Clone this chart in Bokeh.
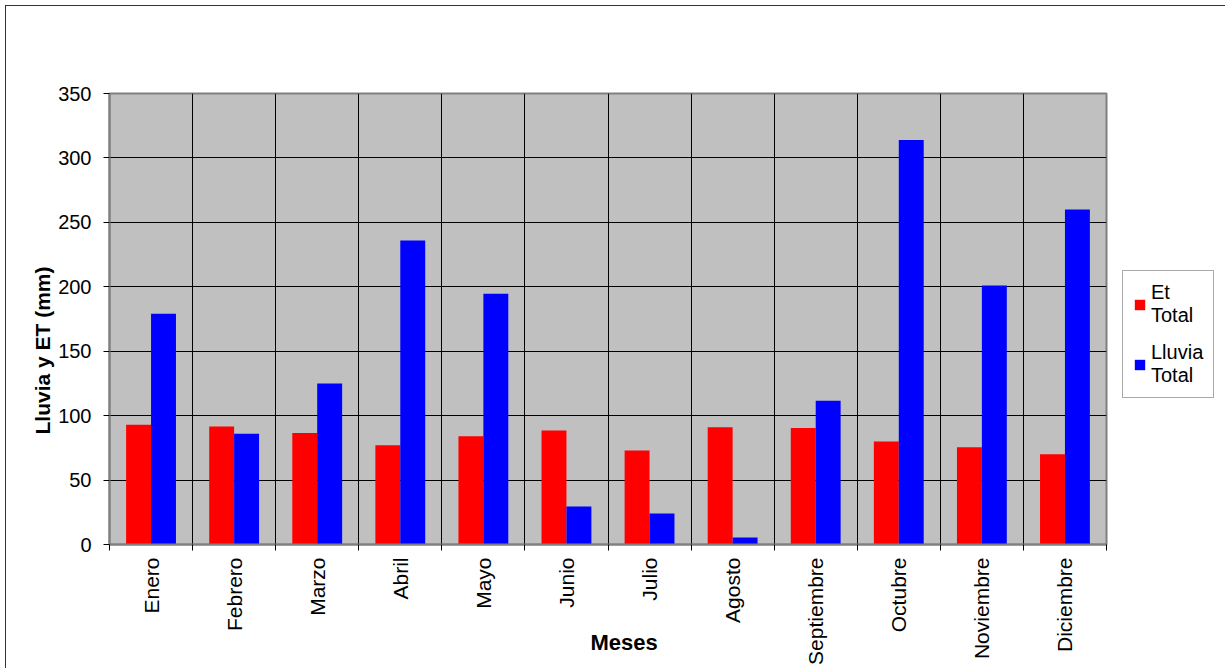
import numpy as np
from bokeh.plotting import figure
from bokeh.models import ColumnDataSource, Range1d, FixedTicker, Title, Legend, LegendItem
from bokeh.transform import dodge
from bokeh.embed import file_html
from bokeh.resources import INLINE

months = ["Enero", "Febrero", "Marzo", "Abril", "Mayo", "Junio", "Julio",
          "Agosto", "Septiembre", "Octubre", "Noviembre", "Diciembre"]
et_total = [93, 91.5, 86.5, 77, 84, 88.5, 73, 91, 90.5, 80, 75.5, 70]
lluvia_total = [179, 86, 125, 236, 194.5, 29.5, 24, 5.5, 111.5, 314, 201, 260]
y_ticks = [0, 50, 100, 150, 200, 250, 300, 350]
series_labels = ["Et\nTotal", "Lluvia\nTotal"]
series_colors = ["#FF0000", "#0000FF"]
y_title = "Lluvia y ET (mm)"
x_title = "Meses"

FONT = "Liberation Sans"

x_pos = np.arange(len(months)) + 0.5
src = ColumnDataSource(dict(x=x_pos, et=et_total, lluvia=lluvia_total, mes=months))

p = figure(frame_width=997, frame_height=451,
           min_border_left=103, min_border_right=115,
           min_border_top=87, min_border_bottom=124,
           x_range=Range1d(0, len(months)), y_range=Range1d(y_ticks[0], y_ticks[-1]),
           output_backend="svg", toolbar_location=None,
           background_fill_color="#C0C0C0", border_fill_color="white",
           outline_line_color="#808080", outline_line_width=2)

p.styles = {"border-left": "1px solid #333333", "border-top": "1px solid #333333",
            "border-right": "1px solid #333333"}
p.margin = (5, 0, 0, 5)

r1 = p.vbar(x=dodge("x", -0.15, range=p.x_range), top="et", width=0.3, source=src,
            fill_color=series_colors[0], line_color=None)
r2 = p.vbar(x=dodge("x", 0.15, range=p.x_range), top="lluvia", width=0.3, source=src,
            fill_color=series_colors[1], line_color=None)

# grids
p.ygrid.ticker = FixedTicker(ticks=y_ticks[1:-1])
p.ygrid.grid_line_color = "black"
p.ygrid.grid_line_width = 1
p.xgrid.ticker = FixedTicker(ticks=list(range(1, len(months))))
p.xgrid.grid_line_color = "black"
p.xgrid.grid_line_width = 1

# x axis
xa = p.xaxis[0]
xa.ticker = FixedTicker(ticks=list(x_pos), minor_ticks=list(range(len(months) + 1)))
xa.major_label_overrides = {float(v): m for v, m in zip(x_pos, months)}
xa.major_label_orientation = np.pi / 2
xa.major_tick_out = 0
xa.major_tick_in = 0
xa.minor_tick_out = 6
xa.minor_tick_in = 0
xa.minor_tick_line_color = "black"
xa.axis_line_color = "#808080"
xa.axis_line_width = 2
xa.major_label_standoff = 7
xa.major_label_text_font = FONT
xa.major_label_text_font_size = "21px"
xa.major_label_text_color = "black"

# y axis
ya = p.yaxis[0]
ya.ticker = FixedTicker(ticks=y_ticks)
ya.major_tick_out = 6
ya.major_tick_in = 0
ya.minor_tick_out = 0
ya.major_tick_line_color = "black"
ya.axis_line_color = "#808080"
ya.axis_line_width = 2
ya.major_label_standoff = 12
ya.major_label_text_font = FONT
ya.major_label_text_font_size = "20px"
ya.major_label_text_color = "black"

# axis titles
p.add_layout(Title(text=y_title, align="left", offset=110, standoff=4,
                   text_font=FONT, text_font_style="bold", text_font_size="21px",
                   text_color="black"), "left")
p.add_layout(Title(text=x_title, align="left", offset=481, standoff=-76,
                   vertical_align="top",
                   text_font=FONT, text_font_style="bold", text_font_size="22px",
                   text_color="black"), "below")

legend = Legend(items=[LegendItem(label=series_labels[0], renderers=[r1]),
                       LegendItem(label=series_labels[1], renderers=[r2])],
                location=(16, 146), orientation="vertical",
                label_text_font=FONT, label_text_font_size="20px",
                label_text_color="black",
                glyph_width=13, glyph_height=13, label_standoff=5,
                padding=10, spacing=14, margin=0,
                border_line_color="#555555", border_line_width=1,
                background_fill_color="white", background_fill_alpha=1)
p.add_layout(legend, "right")

open("out.html", "w").write(file_html(p, INLINE))
